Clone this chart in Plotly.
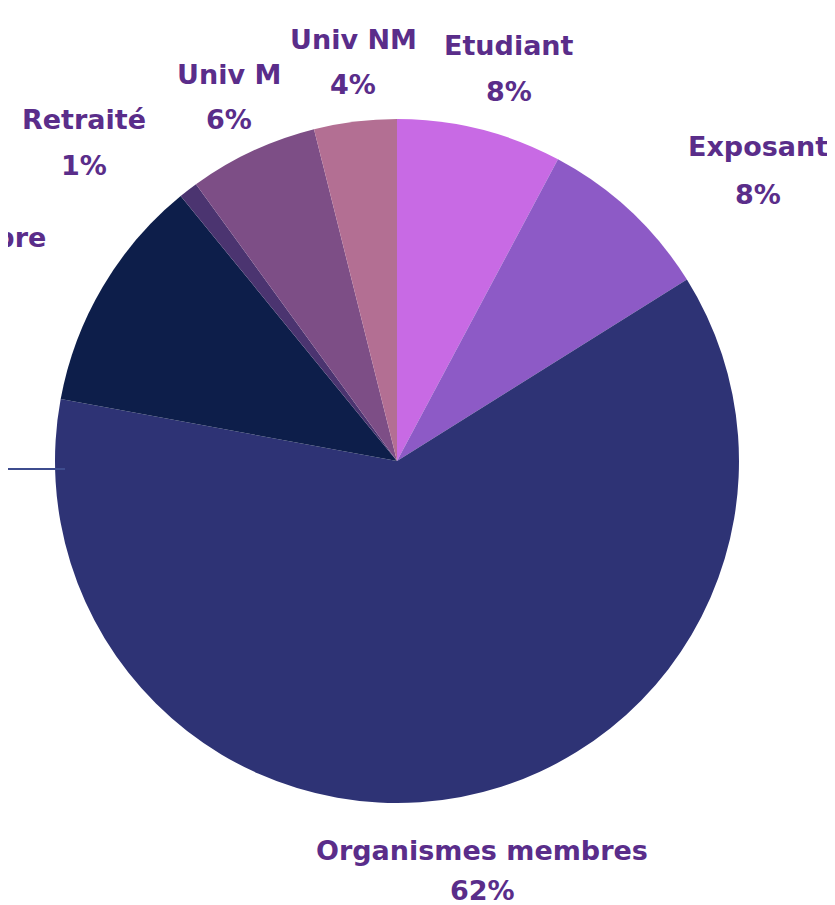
import plotly.graph_objects as go

# ---- data ----
labels = ["Etudiant", "Exposant", "Organismes membres", "Non membre", "Retraité", "Univ M", "Univ NM"]
values = [7.8, 8.3, 61.8, 11.2, 0.9, 6.1, 3.9]
colors = ["#C86AE4", "#8D5AC6", "#2E3375", "#0D1E4A", "#4B3470", "#7D4E86", "#B36F93"]

W, H = 835, 905
# label anchor positions in pixels: (x centre, name line centre y, percent line centre y)
label_pos = {
    "Etudiant": (501, 37, 84),
    "Exposant": (750, 138, 186),
    "Organismes membres": (474, 842, 882),
    "Non membre": (-60, 229, 276),
    "Retraité": (76, 112, 158),
    "Univ M": (221, 67, 112),
    "Univ NM": (345, 31, 76),
}

text_color = "#5A2D8A"
font_family = "DejaVu Sans"
fsize = 27

total = sum(values)

cx, cy, r = 389, 453, 342   # pie centre/radius in px (domain placement)
fig = go.Figure(go.Pie(
    labels=labels,
    values=values,
    sort=False,
    direction="clockwise",
    rotation=0,
    marker=dict(colors=colors, line=dict(width=0)),
    textinfo="none",
    hoverinfo="label+percent",
    showlegend=False,
    domain=dict(x=[(cx - r) / W, (cx + r) / W], y=[(H - cy - r) / H, (H - cy + r) / H]),
))

annotations = []
for lab, val in zip(labels, values):
    px, py1, py2 = label_pos[lab]
    pct = f"{round(val / total * 100)}%"
    for txt, py in ((lab, py1), (pct, py2)):
        annotations.append(dict(
            x=px / W, y=1 - py / H, xref="paper", yref="paper",
            text=txt, showarrow=False, xanchor="center", yanchor="middle",
            font=dict(family=font_family, size=fsize, color=text_color, weight="bold"),
        ))

fig.update_layout(
    width=W, height=H,
    margin=dict(l=0, r=0, t=0, b=0),
    paper_bgcolor="white",
    plot_bgcolor="white",
    annotations=annotations,
    shapes=[dict(type="line", xref="paper", yref="paper",
                 x0=0, x1=57 / W, y0=1 - 461 / H, y1=1 - 461 / H,
                 line=dict(color="#3E4C8E", width=2))],
)

fig.write_html("out.html")
